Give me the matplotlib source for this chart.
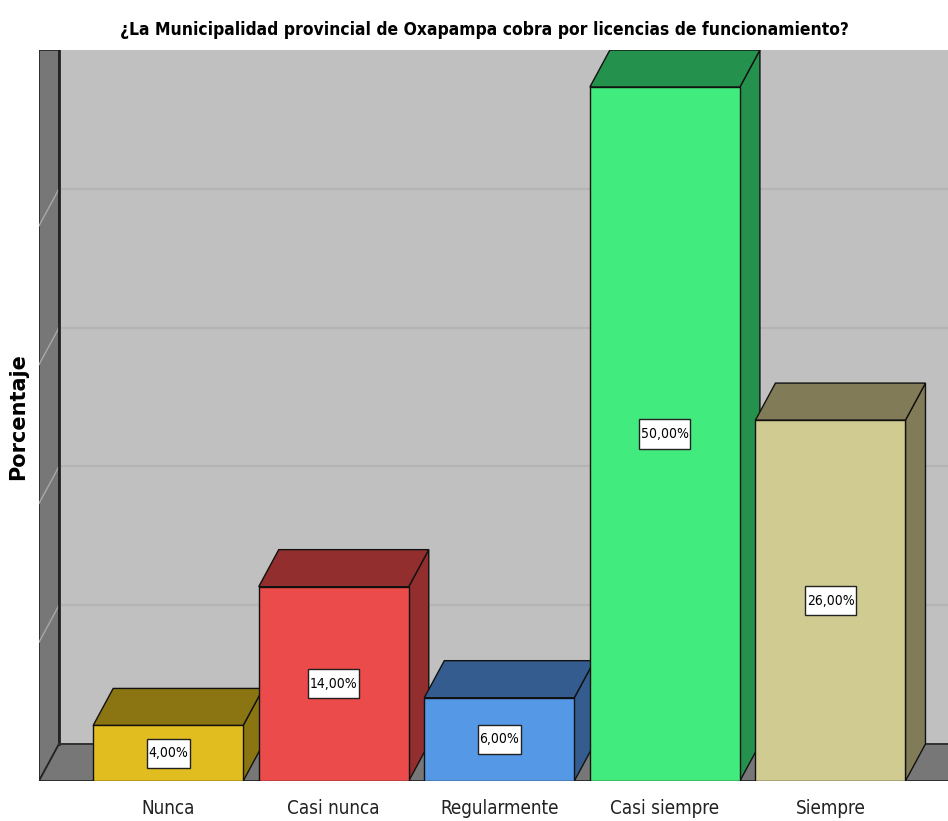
import matplotlib
matplotlib.use("Agg")
import matplotlib.pyplot as plt
from matplotlib.patches import Polygon
from matplotlib.path import Path
import numpy as np

# data
categories = ["Nunca", "Casi nunca", "Regularmente", "Casi siempre", "Siempre"]
percentages = [4.0, 14.0, 6.0, 50.0, 26.0]
labels = ["4,00%", "14,00%", "6,00%", "50,00%", "26,00%"]
front_colors = ["#E1BD1F", "#EC4B4B", "#5598E6", "#42EB7D", "#D0CB91"]
shade_colors = ["#8B7512", "#922E2E", "#345C8F", "#24924D", "#817C57"]
title = "¿La Municipalidad provincial de Oxapampa cobra por licencias de funcionamiento?"
ylabel = "Porcentaje"
grid_values = [10, 20, 30, 40]

narrow = dict(family="DejaVu Sans", stretch="condensed")


def tall_box(x0, y0, width, height, mutation_size):
    # label box: little side padding, more above and below
    px, py = 0.12 * mutation_size, 0.55 * mutation_size
    x0, y0 = x0 - px, y0 - py
    x1, y1 = x0 + width + 2 * px, y0 + height + 2 * py
    return Path([(x0, y0), (x1, y0), (x1, y1), (x0, y1), (x0, y0)], closed=True)


W, H = 948, 821
fig = plt.figure(figsize=(W / 100, H / 100), dpi=100)
ax = fig.add_axes([39 / W, 1 - 781 / H, 1 - 39 / W, (781 - 50) / H])

DX, DY = 0.121, 2.67          # depth offset (category units, percent units)
bar_w = 0.906
xmin, xmax = -0.78, 4.71
ymax = 50 + DY
ax.set_xlim(xmin, xmax)
ax.set_ylim(0, ymax)
ax.set_facecolor("#C0C0C0")
for s in ax.spines.values():
    s.set_visible(False)
ax.set_xticks([])
ax.set_yticks([])

# back wall grid lines
for v in grid_values:
    ax.plot([xmin + DX, xmax], [v + DY, v + DY], color="#B4B4B4", lw=1.5, zorder=1)

# left wall
ax.add_patch(Polygon([(xmin, 0), (xmin + DX, DY), (xmin + DX, ymax), (xmin, ymax)],
                     closed=True, fc="#777777", ec="#222222", lw=1.2, zorder=2))
ax.plot([xmin + DX, xmin + DX], [DY, ymax], color="#222222", lw=2.0, zorder=2.6)
for v in grid_values:
    ax.plot([xmin, xmin + DX], [v, v + DY], color="#A8A8A8", lw=1.0, zorder=2.5)

# floor
ax.add_patch(Polygon([(xmin, 0), (xmax + 1, 0), (xmax + 1, DY), (xmin + DX, DY)],
                     closed=True, fc="#777777", ec="#222222", lw=1.2, zorder=2))
ax.plot([xmin + DX, xmax], [DY, DY], color="#333333", lw=1.2, zorder=2.6)

# bars
x = np.arange(len(categories))
for i, (xi, v) in enumerate(zip(x, percentages)):
    z = 3 + i
    l, r = xi - bar_w / 2, xi + bar_w / 2
    ax.add_patch(Polygon([(r, 0), (r + DX, DY), (r + DX, v + DY), (r, v)],
                         closed=True, fc=shade_colors[i], ec="#111111", lw=1.0, zorder=z))
    ax.add_patch(Polygon([(l, v), (l + DX, v + DY), (r + DX, v + DY), (r, v)],
                         closed=True, fc=shade_colors[i], ec="#111111", lw=1.0, zorder=z))
    ax.bar(xi, v, width=bar_w, color=front_colors[i], edgecolor="#111111",
           linewidth=1.0, zorder=z + 0.1)
    ax.text(xi, v / 2, labels[i], ha="center", va="center", fontsize=10,
            zorder=z + 0.2, **narrow,
            bbox=dict(boxstyle=tall_box, fc="white", ec="#222222", lw=1.0))

# category labels
for xi, c in zip(x, categories):
    ax.text(xi, -2.0, c, ha="center", va="center", fontsize=13.5, color="#222222",
            clip_on=False, **narrow)

fig.text(484 / W, 1 - 30 / H, title, ha="center", va="center", fontsize=12.5,
         fontweight="bold", **narrow)
fig.text(18 / W, 1 - 417 / H, ylabel, ha="center", va="center", rotation=90,
         fontsize=15, fontweight="bold", family="DejaVu Sans")

fig.savefig("out.png", dpi=100)
